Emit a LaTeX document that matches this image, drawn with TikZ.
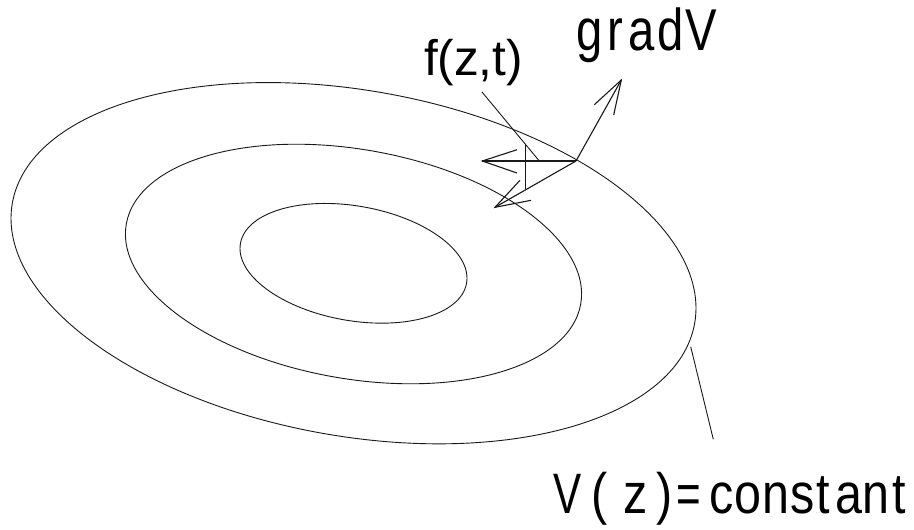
\documentclass[tikz,border=0pt]{standalone}
\usepackage{fontspec}
\setmainfont{Liberation Sans}
\newfontfamily\narrowa[FakeStretch=0.99]{Liberation Sans}
\newfontfamily\narrowb[FakeStretch=0.80]{Liberation Sans}
\newfontfamily\narrowc[FakeStretch=0.85]{Liberation Sans}
\newfontfamily\narrowd[FakeStretch=0.74]{Liberation Sans}
\tikzset{
  contour/.style={line width=0.9pt,black!90},
  vec/.style={line width=1.1pt,black!90},
  leader/.style={line width=0.9pt,black!90},
  lab/.style={anchor=base west,inner sep=0pt,outer sep=0pt,text=black}
}
\begin{document}
\begin{tikzpicture}[x=1pt,y=-1pt]
\useasboundingbox (0,0) rectangle (914,530);
% contours
\draw[contour,shift={(353.5,263.2)},rotate=-10] (0,0) ellipse (346.4 and 172.9);
\draw[contour,shift={(353.5,264)},rotate=-10] (0,0) ellipse (230.7 and 114.6);
\draw[contour,shift={(353.5,263.3)},rotate=-10] (0,0) ellipse (114.8 and 57.3);
% anchor points
\coordinate (O) at (576,161);
\coordinate (gradtip) at (621.3,80);
\coordinate (gh1) at (594.3,104.7);
\coordinate (gh2) at (613.7,115);
\coordinate (htip) at (482.3,161);
\coordinate (hh1) at (517,149.7);
\coordinate (hh2) at (517,173);
\coordinate (dtip) at (495,207.3);
\coordinate (dh1) at (520,180.3);
\coordinate (dh2) at (531,200.3);
\coordinate (vtop) at (525.7,144.3);
\coordinate (vbot) at (525.7,189.3);
\coordinate (fa) at (482,92);
\coordinate (fb) at (539.3,161);
\coordinate (va) at (690.7,346.7);
\coordinate (vb) at (713.3,439.3);
% vectors
\draw[vec] (O) -- (gradtip);
\draw[vec] (gh1) -- (gradtip) -- (gh2);
\draw[vec] (O) -- (htip);
\draw[vec] (hh1) -- (htip) -- (hh2);
\draw[vec] (O) -- (dtip);
\draw[vec] (dh1) -- (dtip) -- (dh2);
\draw[vec] (vtop) -- (vbot);
\draw[leader] (fa) -- (fb);
\draw[leader] (va) -- (vb);
% labels
\node[lab] (flabel) at (424,75) {\fontsize{50pt}{50pt}\narrowa f(z,t)};
\node[lab] (gradlabel) at (576,50) {\fontsize{59pt}{59pt}\narrowb g\kern5pt r\kern6pt a\kern2pt d\kern2pt V};
\node[lab] (vlabel) at (553,513) {\fontsize{57pt}{57pt}{\narrowd V}\kern10pt{\narrowc(}\kern16pt{\narrowc z}\kern9pt{\narrowc)}\kern4pt{\narrowd =}\kern8pt\narrowc c\kern1pt o\kern1pt n\kern1pt s\kern2pt t\kern5pt a\kern1pt n\kern3pt t};
\end{tikzpicture}
\end{document}
